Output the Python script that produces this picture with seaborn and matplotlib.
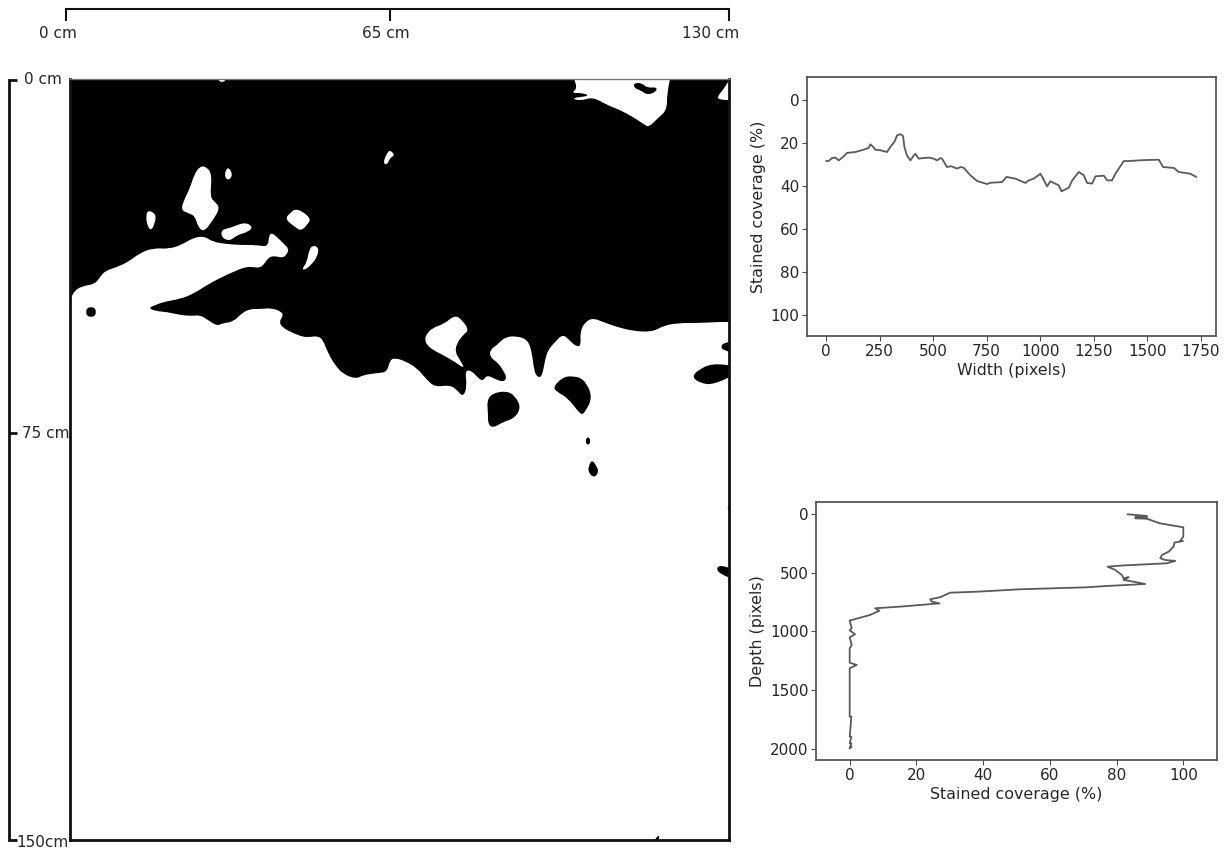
"""
Dye-stained soil profile: binary mask with width and depth coverage curves.
"""
import matplotlib
matplotlib.use('Agg')
import matplotlib.pyplot as plt
from matplotlib.patches import PathPatch
from matplotlib.path import Path
import seaborn as sns

W, H = 1228, 848
LINE = '#5a5a5a'
TEXT = '#262626'

# %% Coverage curves
width_px = [0, 12, 28, 44, 59, 83, 98, 137, 176, 199, 207, 220, 230, 254, 285, 301, 321, 332,
            347, 360, 366, 378, 394, 410, 417, 433, 456, 480, 503, 519, 534, 542, 565, 584,
            612, 628, 643, 674, 706, 752, 768, 822, 843, 885, 931, 947, 970, 1002, 1033, 1048,
            1087, 1100, 1134, 1150, 1181, 1204, 1220, 1243, 1259, 1298, 1313, 1336, 1352, 1391,
            1414, 1461, 1500, 1555, 1575, 1625, 1648, 1702, 1730]
width_cov = [28.6, 28.6, 27.2, 27.0, 28.3, 26.4, 24.8, 24.4, 23.3, 22.5, 20.8, 22.0, 23.3, 23.6,
             24.4, 22.0, 19.4, 16.6, 16.1, 17.0, 22.0, 26.0, 28.3, 26.0, 25.2, 27.5, 27.2, 27.0,
             27.5, 28.3, 27.2, 27.5, 31.4, 31.0, 32.1, 31.4, 31.7, 35.2, 37.9, 39.3, 38.7, 38.4,
             36.0, 36.8, 38.8, 37.6, 36.8, 34.5, 40.4, 38.0, 39.9, 42.7, 41.0, 37.6, 33.7, 35.2,
             38.8, 39.1, 35.7, 35.4, 37.6, 37.6, 34.5, 28.6, 28.6, 28.3, 28.1, 28.0, 31.4, 31.8,
             33.7, 34.5, 36.0]

depth_cov = [83.3, 89.1, 85.6, 89.1, 85.6, 89.1, 93, 100, 100, 99.1, 99.9, 97.3, 97.1, 95.6,
             93.6, 93.1, 94.6, 97.6, 95.1, 81.1, 77.3, 79.6, 81.6, 82.1, 83.6, 82.1, 85.1, 88.6,
             77, 71, 51.1, 38.6, 30.1, 27.1, 24.1, 24.6, 26.9, 21.1, 15.1, 7.6, 8.9, 6.1, 0, 0.6,
             0, 1.6, 0, 0.6, 0, 0, 2.1, 0, 0, 0.5, 0, 0.5, 0, 0.5, 0, 0.5, 0]
depth_px = [0, 14, 23, 28, 34, 38, 77, 111, 190, 225, 228, 242, 276, 319, 347, 375, 390, 398, 418,
            438, 447, 475, 518, 546, 537, 560, 575, 595, 612, 623, 640, 660, 669, 708, 725, 745,
            760, 774, 788, 802, 823, 859, 907, 973, 990, 1024, 1050, 1115, 1143, 1266, 1286,
            1314, 1727, 1727, 1897, 1897, 1955, 1955, 1997, 1985, 1997]

# %% Mask outlines, in the pixels of the printed mask panel
# a point given twice stays a sharp corner
dry_edge = [(66, 306), (71, 298), (75, 290), (83, 286), (95, 284), (100, 277), (105, 271),
            (117, 267), (128, 262), (140, 253), (153, 248), (170, 249), (183, 244), (193, 238),
            (204, 236), (213, 242), (227, 244), (240, 245), (257, 245), (268, 247), (269, 235),
            (272, 233), (277, 237), (283, 243), (289, 249), (287, 254), (283, 258), (275, 256),
            (269, 257), (265, 263), (260, 268), (253, 267), (245, 267), (233, 272), (220, 278),
            (207, 285), (193, 294), (180, 299), (163, 302), (153, 306), (149, 308), (155, 311),
            (167, 312), (180, 315), (192, 316), (200, 315), (208, 320), (217, 326), (223, 323),
            (233, 322), (242, 313), (250, 309), (260, 309), (272, 308), (282, 312), (283, 316),
            (279, 322), (283, 328), (293, 333), (303, 337), (310, 337), (318, 336), (323, 340),
            (328, 353), (335, 365), (343, 374), (356, 379), (363, 375), (378, 373), (387, 372),
            (390, 360), (395, 358), (405, 361), (417, 368), (427, 380), (435, 387), (450, 385),
            (457, 390), (463, 397), (467, 387), (465, 370), (472, 371), (478, 378), (483, 381),
            (487, 375), (495, 379), (503, 382), (507, 378), (503, 370), (498, 363), (490, 357),
            (490, 350), (497, 345), (505, 337), (517, 336), (528, 340), (532, 353), (534, 370),
            (537, 377), (542, 377), (545, 360), (548, 350), (555, 342), (563, 334), (570, 341),
            (577, 347), (581, 345), (580, 332), (585, 322), (593, 318), (603, 322), (617, 327),
            (633, 331), (652, 332), (663, 326), (677, 323), (700, 323), (717, 322), (729, 322),
            (745, 322), (745, 322), (745, 60), (745, 60), (55, 60), (55, 60), (55, 320), (55, 320)]

wet_islands = [
    [(426, 335), (432, 328), (444, 324), (455, 315), (462, 320), (469, 330), (463, 335),
     (457, 343), (455, 352), (460, 360), (465, 369), (455, 362), (443, 355), (433, 350),
     (427, 345), (425, 340)],
    [(200, 166), (207, 167), (212, 175), (210, 197), (215, 202), (220, 208), (213, 220),
     (204, 232), (198, 227), (195, 216), (188, 213), (181, 210), (184, 200), (190, 188),
     (194, 175)],
    [(228, 166), (233, 175), (228, 181), (224, 175)],
    [(148, 210), (156, 214), (155, 223), (151, 231), (147, 225), (146, 216)],
    [(221, 230), (230, 228), (245, 222), (253, 227), (248, 232), (237, 235), (230, 241),
     (222, 238)],
    [(297, 208), (311, 218), (308, 224), (301, 231), (295, 227), (285, 219), (290, 213)],
    [(313, 245), (319, 248), (317, 257), (312, 264), (305, 270), (302, 269), (307, 262),
     (309, 250)],
    [(390, 150), (395, 155), (390, 158), (387, 165), (383, 163), (387, 153)],
    [(570, 70), (570, 70), (672, 70), (672, 70), (667, 93), (667, 110), (658, 118), (649, 127),
     (645, 125), (633, 117), (620, 110), (607, 105), (593, 97), (580, 101), (571, 98), (590, 96),
     (583, 93), (571, 93), (578, 88)],
    [(732, 76), (732, 76), (735, 100), (735, 100), (720, 100), (717, 97), (723, 90)],
    [(217, 79), (227, 79), (222, 83)],
]

dry_islands = [
    [(634, 83), (642, 83), (647, 88), (657, 87), (656, 92), (647, 95), (642, 91), (634, 88)],
    [(487, 400), (493, 393), (507, 391), (515, 396), (521, 407), (515, 418), (503, 422),
     (493, 428), (488, 424), (488, 413)],
    [(553, 387), (563, 377), (573, 376), (584, 379), (593, 397), (584, 414), (580, 414),
     (568, 398), (557, 392)],
    [(588, 436), (591, 441), (588, 446), (585, 441)],
    [(592, 460), (596, 465), (599, 472), (594, 478), (588, 472), (589, 465)],
    [(692, 377), (698, 370), (713, 363), (740, 367), (740, 372), (713, 385), (700, 383)],
    [(723, 343), (740, 340), (740, 355), (723, 350), (721, 347)],
    [(745, 496), (722, 508), (745, 520)],
    [(722, 565), (740, 572), (740, 582), (720, 574), (716, 568)],
    [(91, 307), (95, 308), (96, 312), (95, 316), (91, 317), (87, 316), (86, 312), (87, 308)],
    [(654, 840), (660, 834), (658, 842)],
]

# %% Rulers, drawn unevenly in the printed figure
top_ticks = [0, 63.5, 130]
top_labels = ['0 cm', '65 cm', '130 cm']
left_ticks = [0, 69.7, 150]
left_labels = ['0 cm', '75 cm', '150cm']

sns.set_style('ticks', {'axes.edgecolor': '#4a4a4a', 'text.color': TEXT,
                        'axes.labelcolor': TEXT, 'xtick.color': TEXT, 'ytick.color': TEXT})
plt.rcParams['font.family'] = 'DejaVu Sans'


def box(left, top, right, bottom):
    return [left / W, 1 - bottom / H, (right - left) / W, (bottom - top) / H]


def add_blob(ax, outline, color):
    """Fill an outline with rounded corners, as the blurred mask has."""
    mids = [((a[0] + b[0]) / 2, (a[1] + b[1]) / 2)
            for a, b in zip(outline, outline[1:] + outline[:1])]
    verts = [mids[-1]]
    codes = [Path.MOVETO]
    for point, mid in zip(outline, mids):
        verts += [point, mid]
        codes += [Path.CURVE3, Path.CURVE3]
    ax.add_patch(PathPatch(Path(verts, codes), facecolor=color, lw=0))


fig = plt.figure(figsize=(W / 100, H / 100), dpi=100)

# %% Mask panel
ax = fig.add_axes(box(70, 79, 729, 840))
add_blob(ax, dry_edge, 'black')
for outline in wet_islands:
    add_blob(ax, outline, 'white')
for outline in dry_islands:
    add_blob(ax, outline, 'black')
ax.set_xlim(70, 729)
ax.set_ylim(840, 79)
ax.set_xticks([])
ax.set_yticks([])
for side in ['left', 'right', 'bottom']:
    ax.spines[side].set_color('#111111')
    ax.spines[side].set_linewidth(2)
ax.spines['top'].set_color('#777777')
ax.spines['top'].set_linewidth(1)

# %% Top ruler
ax_top = fig.add_axes(box(66, 9, 729, 9))
ax_top.set_xlim(0, 130)
ax_top.set_yticks([])
ax_top.set_xticks(top_ticks, ['', '', ''])
ax_top.tick_params(axis='x', length=8.5, width=1.5, color='#111111')
sns.despine(ax=ax_top, left=True, right=True, top=True)
ax_top.spines['bottom'].set_color('#111111')
ax_top.spines['bottom'].set_linewidth(1.5)
for tick, label, dx in zip(top_ticks, top_labels, [-6, -3, -13]):
    ax_top.annotate(label, (tick, 0), xycoords=('data', 'axes fraction'), xytext=(dx, -17.5),
                    textcoords='offset points', va='center', ha='center', fontsize=11,
                    color=TEXT, annotation_clip=False)

# %% Left ruler
ax_left = fig.add_axes(box(9, 80, 9, 840))
ax_left.set_ylim(150, 0)
ax_left.set_xticks([])
ax_left.yaxis.tick_right()
ax_left.set_yticks(left_ticks, ['', '', ''])
ax_left.tick_params(axis='y', length=6, width=2, color='#111111')
sns.despine(ax=ax_left, left=False, right=True, top=True, bottom=True)
ax_left.spines['left'].set_color('#111111')
ax_left.spines['left'].set_linewidth(2)
for tick, label, dx, dy in zip(left_ticks, left_labels, [11, 9.5, 5], [0, 0, -1.5]):
    ax_left.annotate(label, (0, tick), xycoords=('axes fraction', 'data'), xytext=(dx, dy),
                     textcoords='offset points', va='center', ha='left', fontsize=11,
                     color=TEXT, annotation_clip=False)

# %% Width profile
ax1 = fig.add_axes(box(807, 77, 1216, 336))
sns.lineplot(x=width_px, y=width_cov, sort=False, estimator=None, color=LINE, lw=1.3, ax=ax1)
ax1.set_xlim(-89, 1822)
ax1.set_ylim(110, -10.5)
ax1.set_xticks(range(0, 1751, 250))
ax1.set_yticks(range(0, 101, 20))
ax1.set_xlabel('Width (pixels)', fontsize=11.4, labelpad=3.5)
ax1.set_ylabel('Stained coverage (%)', fontsize=11.4, labelpad=3.5)
ax1.tick_params(labelsize=11, length=3.5, width=0.8, color='#4a4a4a', pad=2)

# %% Depth profile
ax2 = fig.add_axes(box(816, 502, 1217, 760))
sns.lineplot(x=depth_cov, y=depth_px, sort=False, estimator=None, color=LINE, lw=1.3, ax=ax2)
ax2.set_xlim(-10.1, 110.1)
ax2.set_ylim(2097, -105)
ax2.set_xticks(range(0, 101, 20))
ax2.set_yticks(range(0, 2001, 500))
ax2.set_xlabel('Stained coverage (%)', fontsize=11.4, labelpad=3.5)
ax2.set_ylabel('Depth (pixels)', fontsize=11.4, labelpad=3.5)
ax2.tick_params(labelsize=11, length=3.5, width=0.8, color='#4a4a4a', pad=2)

for a in [ax1, ax2]:
    for spine in a.spines.values():
        spine.set_linewidth(1.2)

fig.savefig('out.png', dpi=100)
